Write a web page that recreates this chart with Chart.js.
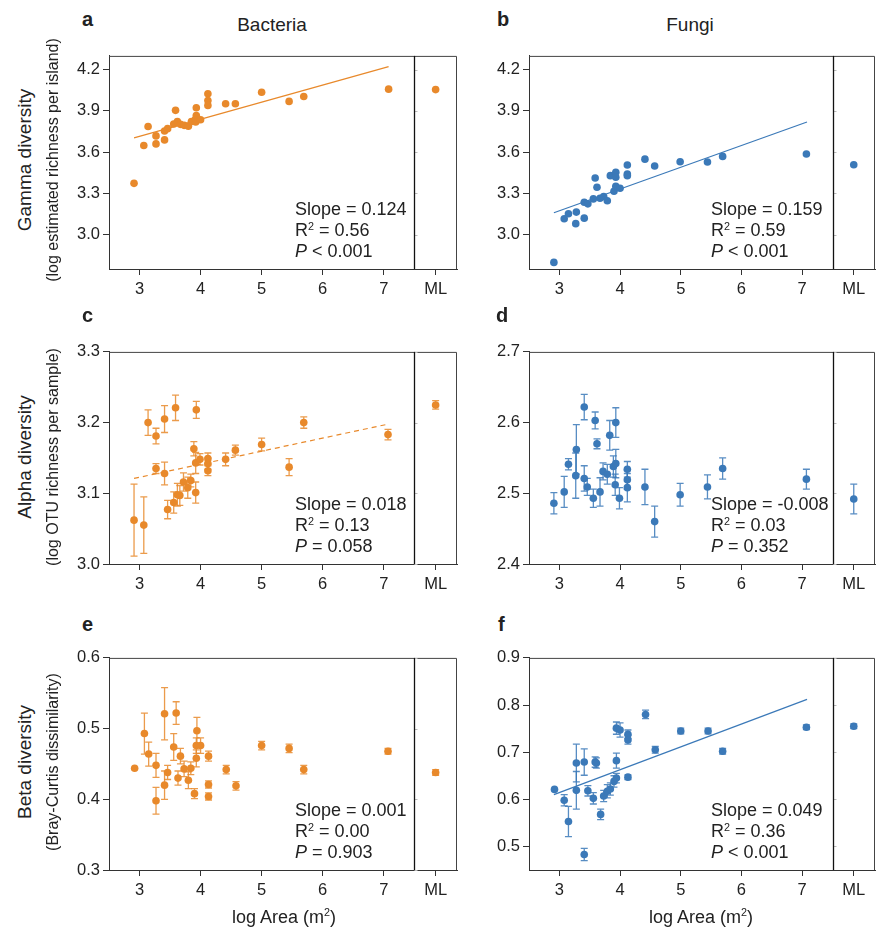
<!DOCTYPE html>
<html>
<head>
<meta charset="utf-8">
<script src="https://cdn.jsdelivr.net/npm/chart.js@4.4.1/dist/chart.umd.min.js"></script>
<style>
  body { margin: 0; width: 879px; height: 927px; background: #fff; position: relative; overflow: hidden;
         font-family: "Liberation Sans", Arial, sans-serif; color: #222; }
  canvas { position: absolute; }
  .t { position: absolute; white-space: nowrap; line-height: 21px; }
  .col { font-size: 19px; transform: translate(-50%, -50%); }
  .letter { font-size: 20px; font-weight: bold; line-height: 20px; }
  .ytitle { font-size: 19px; transform: translate(-50%, -50%) rotate(-90deg); }
  .ysub { font-size: 16px; transform: translate(-50%, -50%) rotate(-90deg); }
  .xtitle { font-size: 18px; transform: translate(-50%, -50%); }
  .stats { font-size: 18px; }
  sup { font-size: 0.6em; vertical-align: 0.6em; line-height: 0; }
</style>
</head>
<body>
<canvas id="chart-a"></canvas>
<canvas id="chart-b"></canvas>
<canvas id="chart-c"></canvas>
<canvas id="chart-d"></canvas>
<canvas id="chart-e"></canvas>
<canvas id="chart-f"></canvas>

<div class="t col" style="left:272px;top:24px">Bacteria</div>
<div class="t col" style="left:690px;top:24px">Fungi</div>

<div class="t letter" style="left:82px;top:9px">a</div>
<div class="t letter" style="left:497px;top:9px">b</div>
<div class="t letter" style="left:82px;top:305px">c</div>
<div class="t letter" style="left:496px;top:305px">d</div>
<div class="t letter" style="left:82px;top:614px">e</div>
<div class="t letter" style="left:498px;top:614px">f</div>

<div class="t ytitle" style="left:24px;top:160px">Gamma diversity</div>
<div class="t ysub" style="left:52px;top:160px">(log estimated richness per island)</div>
<div class="t ytitle" style="left:24px;top:457px">Alpha diversity</div>
<div class="t ysub" style="left:52px;top:457px">(log OTU richness per sample)</div>
<div class="t ytitle" style="left:24px;top:762px">Beta diversity</div>
<div class="t ysub" style="left:52px;top:762px">(Bray-Curtis dissimilarity)</div>

<div class="t xtitle" style="left:284px;top:917px">log Area (m<sup>2</sup>)</div>
<div class="t xtitle" style="left:701px;top:917px">log Area (m<sup>2</sup>)</div>

<div class="t stats" style="left:295px;top:199px">Slope = 0.124<br>R<sup>2</sup> = 0.56<br><i>P</i> &lt; 0.001</div>
<div class="t stats" style="left:711px;top:199px">Slope = 0.159<br>R<sup>2</sup> = 0.59<br><i>P</i> &lt; 0.001</div>
<div class="t stats" style="left:295px;top:494px">Slope = 0.018<br>R<sup>2</sup> = 0.13<br><i>P</i> = 0.058</div>
<div class="t stats" style="left:711px;top:494px">Slope = -0.008<br>R<sup>2</sup> = 0.03<br><i>P</i> = 0.352</div>
<div class="t stats" style="left:295px;top:800px">Slope = 0.001<br>R<sup>2</sup> = 0.00<br><i>P</i> = 0.903</div>
<div class="t stats" style="left:711px;top:800px">Slope = 0.049<br>R<sup>2</sup> = 0.36<br><i>P</i> &lt; 0.001</div>

<script>
// ---- data ----
const ML_X = 7.85;          // where the mainland point sits on the x axis
const SPLIT_X = 7.5;        // divider between islands and mainland
const xTickValues = [3, 4, 5, 6, 7, ML_X];
const fitX = [2.91, 7.08];

// a: bacteria gamma
const areaA = [2.91, 3.07, 3.14, 3.27, 3.27, 3.41, 3.41, 3.46, 3.59, 3.56, 3.62, 3.67, 3.73, 3.80, 3.85, 3.91, 3.93, 3.93, 3.92, 4.00, 4.12, 4.12, 4.12, 4.41, 4.57, 5.00, 5.45, 5.69, 7.08];
const gammaBac = [3.373, 3.648, 3.786, 3.718, 3.660, 3.689, 3.754, 3.771, 3.904, 3.805, 3.822, 3.802, 3.795, 3.788, 3.822, 3.836, 3.923, 3.867, 3.819, 3.836, 4.024, 3.976, 3.940, 3.952, 3.952, 4.036, 3.969, 4.005, 4.058];
const gammaBacML = 4.055;
const gammaBacFit = [3.704, 4.222];

// b: fungi gamma
const areaB = [2.91, 3.08, 3.15, 3.28, 3.27, 3.41, 3.41, 3.47, 3.59, 3.62, 3.56, 3.67, 3.73, 3.79, 3.84, 3.90, 3.93, 3.93, 3.93, 4.00, 4.12, 4.12, 4.12, 4.41, 4.57, 4.99, 5.44, 5.69, 7.07];
const gammaFun = [2.798, 3.116, 3.152, 3.164, 3.080, 3.236, 3.120, 3.224, 3.412, 3.345, 3.260, 3.265, 3.277, 3.246, 3.429, 3.316, 3.453, 3.417, 3.352, 3.337, 3.506, 3.441, 3.429, 3.549, 3.499, 3.530, 3.528, 3.569, 3.586];
const gammaFunML = 3.508;
const gammaFunFit = [3.159, 3.819];

// c: bacteria alpha (mean +- error)
const areaC = [2.91, 3.07, 3.14, 3.27, 3.27, 3.41, 3.41, 3.46, 3.59, 3.56, 3.62, 3.66, 3.72, 3.79, 3.84, 3.89, 3.93, 3.92, 3.92, 3.99, 4.12, 4.12, 4.12, 4.41, 4.57, 5.00, 5.45, 5.69, 7.07];
const alphaBac = [3.062, 3.055, 3.200, 3.181, 3.135, 3.205, 3.128, 3.077, 3.221, 3.087, 3.098, 3.097, 3.116, 3.108, 3.118, 3.163, 3.218, 3.143, 3.101, 3.148, 3.149, 3.142, 3.132, 3.148, 3.161, 3.169, 3.137, 3.200, 3.183];
const alphaBacErr = [0.051, 0.040, 0.018, 0.011, 0.007, 0.019, 0.016, 0.013, 0.018, 0.015, 0.016, 0.014, 0.013, 0.015, 0.009, 0.010, 0.012, 0.015, 0.015, 0.008, 0.008, 0.008, 0.007, 0.009, 0.007, 0.009, 0.012, 0.008, 0.0075];
const alphaBacML = 3.225, alphaBacMLErr = 0.006;
const alphaBacFit = [3.121, 3.198];

// d: fungi alpha
const areaD = [2.91, 3.08, 3.15, 3.28, 3.27, 3.41, 3.41, 3.46, 3.59, 3.62, 3.56, 3.67, 3.72, 3.79, 3.83, 3.89, 3.93, 3.93, 3.92, 3.99, 4.12, 4.12, 4.12, 4.41, 4.57, 4.99, 5.44, 5.69, 7.07];
const alphaFun = [2.486, 2.502, 2.541, 2.562, 2.525, 2.622, 2.521, 2.509, 2.603, 2.570, 2.493, 2.502, 2.531, 2.527, 2.582, 2.538, 2.600, 2.542, 2.512, 2.493, 2.534, 2.519, 2.508, 2.509, 2.460, 2.498, 2.509, 2.535, 2.520];
const alphaFunErr = [0.015, 0.022, 0.008, 0.035, 0.032, 0.018, 0.018, 0.012, 0.012, 0.007, 0.013, 0.020, 0.012, 0.014, 0.021, 0.015, 0.021, 0.020, 0.015, 0.015, 0.011, 0.013, 0.020, 0.025, 0.022, 0.016, 0.017, 0.015, 0.014];
const alphaFunML = 2.492, alphaFunMLErr = 0.021;

// e: bacteria beta
const areaE = [2.92, 3.08, 3.15, 3.27, 3.27, 3.41, 3.41, 3.46, 3.60, 3.56, 3.63, 3.67, 3.73, 3.80, 3.84, 3.93, 3.94, 3.93, 3.90, 4.00, 4.13, 4.13, 4.13, 4.42, 4.58, 5.00, 5.45, 5.69, 7.07];
const betaBac = [0.444, 0.493, 0.464, 0.448, 0.398, 0.521, 0.420, 0.438, 0.522, 0.474, 0.430, 0.461, 0.443, 0.427, 0.444, 0.458, 0.497, 0.476, 0.408, 0.476, 0.461, 0.421, 0.404, 0.442, 0.419, 0.476, 0.472, 0.442, 0.468];
const betaBacErr = [0, 0.029, 0.017, 0.017, 0.019, 0.037, 0.020, 0.010, 0.016, 0.019, 0.010, 0.011, 0.011, 0.012, 0.009, 0.012, 0.019, 0.011, 0.007, 0.011, 0.007, 0.005, 0.005, 0.006, 0.006, 0.006, 0.006, 0.006, 0.004];
const betaBacML = 0.438, betaBacMLErr = 0.004;

// f: fungi beta
const areaF = [2.92, 3.08, 3.15, 3.28, 3.28, 3.41, 3.41, 3.47, 3.59, 3.61, 3.56, 3.68, 3.73, 3.79, 3.84, 3.90, 3.94, 3.94, 3.94, 4.00, 4.13, 4.13, 4.13, 4.42, 4.58, 5.00, 5.45, 5.69, 7.07];
const betaFun = [0.621, 0.598, 0.553, 0.677, 0.619, 0.679, 0.483, 0.618, 0.679, 0.677, 0.602, 0.568, 0.607, 0.617, 0.622, 0.638, 0.645, 0.682, 0.751, 0.747, 0.738, 0.726, 0.647, 0.780, 0.705, 0.745, 0.745, 0.702, 0.753];
const betaFunErr = [0, 0.012, 0.032, 0.040, 0.040, 0.028, 0.013, 0.011, 0.011, 0.011, 0.012, 0.011, 0.012, 0.014, 0.013, 0.012, 0.010, 0.016, 0.013, 0.015, 0.009, 0.009, 0.005, 0.009, 0.007, 0.006, 0.006, 0.006, 0.005];
const betaFunML = 0.755, betaFunMLErr = 0.005;
const betaFunFit = [0.610, 0.812];

const yTicksGamma = [3.0, 3.3, 3.6, 3.9, 4.2];
const yTicksAlphaBac = [3.0, 3.1, 3.2, 3.3];
const yTicksAlphaFun = [2.4, 2.5, 2.6, 2.7];
const yTicksBetaBac = [0.3, 0.4, 0.5, 0.6];
const yTicksBetaFun = [0.5, 0.6, 0.7, 0.8, 0.9];

// ---- look ----
const ORANGE = '#E8892B';
const ORANGE_ERR = 'rgba(232, 137, 43, 0.85)';
const BLUE = '#3B79B8';
const BLUE_ERR = 'rgba(59, 121, 184, 0.85)';
const AXIS_W = 50, AXIS_H = 40, PAD_T = 12, PAD_R = 12;
const tickFont = { family: '"Liberation Sans", Arial, sans-serif', size: 16.5 };

// plot areas in page pixels
const boxLeft = { left: 109, right: 457 };
const boxRight = { left: 529, right: 875 };
const rowTop = [{ top: 55, bottom: 269 }, { top: 351, bottom: 564 }, { top: 657, bottom: 870 }];

// error bars drawn from the y scale
const errorBars = {
  id: 'errorBars',
  beforeDatasetsDraw(chart) {
    const { ctx, scales: { y } } = chart;
    chart.data.datasets.forEach((ds, i) => {
      if (!ds.errors) return;
      const meta = chart.getDatasetMeta(i);
      ctx.save();
      ctx.strokeStyle = ds.errorColor;
      ctx.lineWidth = 1.3;
      meta.data.forEach((pt, j) => {
        const e = ds.errors[j];
        if (!e) return;
        const v = ds.data[j].y;
        const top = y.getPixelForValue(v + e), bot = y.getPixelForValue(v - e);
        ctx.beginPath();
        ctx.moveTo(pt.x, top); ctx.lineTo(pt.x, bot);
        ctx.moveTo(pt.x - 3.5, top); ctx.lineTo(pt.x + 3.5, top);
        ctx.moveTo(pt.x - 3.5, bot); ctx.lineTo(pt.x + 3.5, bot);
        ctx.stroke();
      });
      ctx.restore();
    });
  }
};

// top/right spines and the island | mainland divider
const frame = {
  id: 'frame',
  afterDraw(chart) {
    const { ctx, chartArea: a, scales: { x, y } } = chart;
    const sx = Math.round(x.getPixelForValue(SPLIT_X)) + 0.5;
    ctx.save();
    ctx.strokeStyle = '#444';
    ctx.lineWidth = 1;
    ctx.beginPath();
    ctx.moveTo(a.left, a.top + 0.5);
    ctx.lineTo(a.right - 0.5, a.top + 0.5);
    ctx.lineTo(a.right - 0.5, a.bottom);
    ctx.stroke();
    ctx.strokeStyle = '#bbb';
    y.ticks.forEach(t => {
      const py = Math.round(y.getPixelForValue(t.value)) + 0.5;
      ctx.beginPath(); ctx.moveTo(sx, py); ctx.lineTo(sx + 3, py); ctx.stroke();
    });
    ctx.strokeStyle = '#111';
    ctx.lineWidth = 1.3;
    ctx.beginPath(); ctx.moveTo(sx, a.top); ctx.lineTo(sx, a.bottom); ctx.stroke();
    ctx.restore();
  }
};

Chart.register(errorBars, frame);

const toPoints = (xs, ys) => xs.map((x, i) => ({ x: x, y: ys[i] }));

const dotSet = (xs, ys, color, errs, errColor) => ({
  data: toPoints(xs, ys),
  backgroundColor: color,
  borderWidth: 0,
  pointRadius: 3.8,
  errors: errs,
  errorColor: errColor
});

const fitSet = (ys, color, dashed) => ({
  data: toPoints(fitX, ys),
  showLine: true,
  borderColor: color,
  borderWidth: 1.2,
  borderDash: dashed ? [5, 4] : [],
  pointRadius: 0
});

const axisStyle = {
  grid: { drawOnChartArea: false, drawTicks: true, tickLength: 6, color: '#333', tickColor: '#333' },
  border: { color: '#333', width: 1 }
};

const panelOptions = (yMin, yMax, yTicks) => ({
  responsive: false,
  animation: false,
  layout: { padding: { top: PAD_T, right: PAD_R, left: 0, bottom: 0 } },
  plugins: { legend: { display: false }, tooltip: { enabled: false } },
  scales: {
    x: {
      type: 'linear', min: 2.5, max: 8.2,
      afterBuildTicks: s => { s.ticks = xTickValues.map(v => ({ value: v })); },
      afterFit: s => { s.height = AXIS_H; },
      ticks: { font: tickFont, color: '#222', padding: 5, maxRotation: 0, autoSkip: false,
               callback: v => v === ML_X ? 'ML' : String(v) },
      ...axisStyle
    },
    y: {
      min: yMin, max: yMax,
      afterBuildTicks: s => { s.ticks = yTicks.map(v => ({ value: v })); },
      afterFit: s => { s.width = AXIS_W; },
      ticks: { font: tickFont, color: '#222', padding: 3, callback: v => v.toFixed(1) },
      ...axisStyle
    }
  }
});

const createPanel = (id, col, row, yMin, yMax, yTicks, datasets) => {
  const canvas = document.getElementById(id);
  canvas.width = col.right - col.left + AXIS_W + PAD_R;
  canvas.height = row.bottom - row.top + PAD_T + AXIS_H;
  canvas.style.left = (col.left - AXIS_W) + 'px';
  canvas.style.top = (row.top - PAD_T) + 'px';
  return new Chart(canvas, { type: 'scatter', data: { datasets: datasets }, options: panelOptions(yMin, yMax, yTicks) });
};

createPanel('chart-a', boxLeft, rowTop[0], 2.75, 4.3, yTicksGamma, [
  dotSet(areaA, gammaBac, ORANGE),
  dotSet([ML_X], [gammaBacML], ORANGE),
  fitSet(gammaBacFit, ORANGE, false)
]);

createPanel('chart-b', boxRight, rowTop[0], 2.75, 4.3, yTicksGamma, [
  dotSet(areaB, gammaFun, BLUE),
  dotSet([ML_X], [gammaFunML], BLUE),
  fitSet(gammaFunFit, BLUE, false)
]);

createPanel('chart-c', boxLeft, rowTop[1], 3.0, 3.3, yTicksAlphaBac, [
  dotSet(areaC, alphaBac, ORANGE, alphaBacErr, ORANGE_ERR),
  dotSet([ML_X], [alphaBacML], ORANGE, [alphaBacMLErr], ORANGE_ERR),
  fitSet(alphaBacFit, ORANGE, true)
]);

createPanel('chart-d', boxRight, rowTop[1], 2.4, 2.7, yTicksAlphaFun, [
  dotSet(areaD, alphaFun, BLUE, alphaFunErr, BLUE_ERR),
  dotSet([ML_X], [alphaFunML], BLUE, [alphaFunMLErr], BLUE_ERR)
]);

createPanel('chart-e', boxLeft, rowTop[2], 0.3, 0.6, yTicksBetaBac, [
  dotSet(areaE, betaBac, ORANGE, betaBacErr, ORANGE_ERR),
  dotSet([ML_X], [betaBacML], ORANGE, [betaBacMLErr], ORANGE_ERR)
]);

createPanel('chart-f', boxRight, rowTop[2], 0.45, 0.9, yTicksBetaFun, [
  dotSet(areaF, betaFun, BLUE, betaFunErr, BLUE_ERR),
  dotSet([ML_X], [betaFunML], BLUE, [betaFunMLErr], BLUE_ERR),
  fitSet(betaFunFit, BLUE, false)
]);
</script>
</body>
</html>
